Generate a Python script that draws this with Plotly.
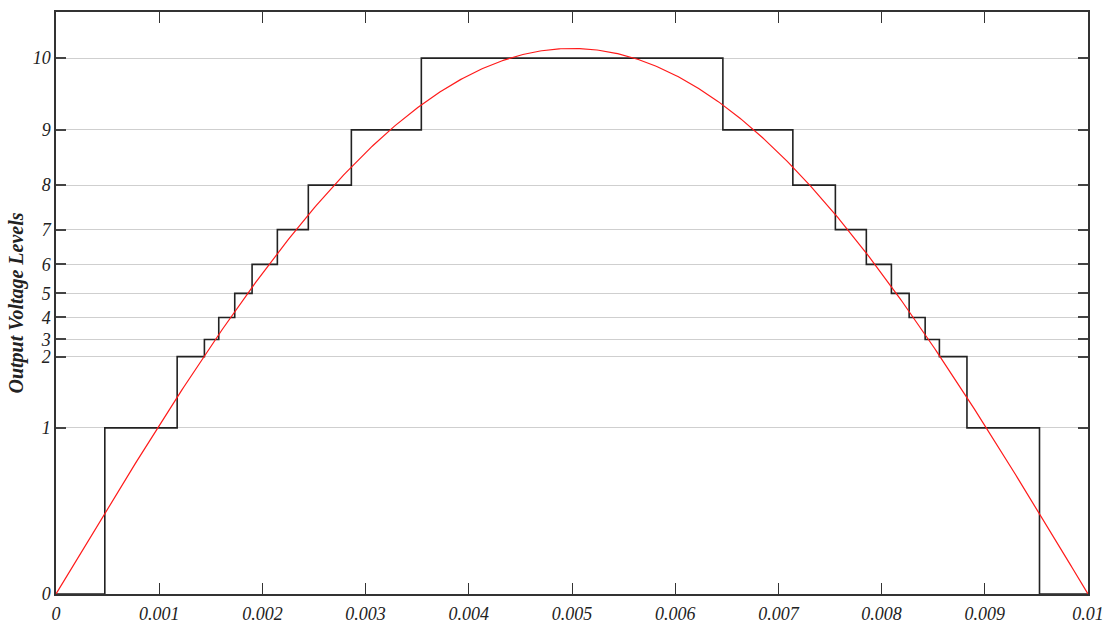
import numpy as np
import plotly.graph_objects as go

# Level positions on the (normalised) voltage scale
level_labels = ["0", "1", "2", "3", "4", "5", "6", "7", "8", "9", "10"]
level_pos = [0.0, 0.310, 0.443, 0.475, 0.516, 0.561, 0.615, 0.680, 0.763, 0.866, 1.0]

# Switching instants (s) for rising and falling edges
rise_times = [0.000473, 0.001174, 0.001438, 0.001577, 0.001732, 0.001900,
              0.002145, 0.002445, 0.002862, 0.003540]
fall_times = [0.006462, 0.007140, 0.007552, 0.007852, 0.008095, 0.008267,
              0.008422, 0.008560, 0.008827, 0.009530]

# Reference sinusoid
ref_amp = 1.018
half_period = 0.01

x_ticks = [0, 0.001, 0.002, 0.003, 0.004, 0.005, 0.006, 0.007, 0.008, 0.009, 0.01]
x_ticktext = ["0", "0.001", "0.002", "0.003", "0.004", "0.005", "0.006", "0.007",
              "0.008", "0.009", "0.01"]

# Build staircase
sx = [0.0] + rise_times + fall_times + [0.01]
sy = [level_pos[0]] + level_pos[1:] + level_pos[9::-1] + [level_pos[0]]

t = np.linspace(0, half_period, 600)
ref = ref_amp * np.sin(np.pi * t / half_period)

fig = go.Figure()
fig.add_trace(go.Scatter(x=sx, y=sy, mode="lines", line=dict(color="#222222", width=1.6, shape="hv"),
                         showlegend=False))
fig.add_trace(go.Scatter(x=t, y=ref, mode="lines", line=dict(color="#ff1a1a", width=1.2),
                         showlegend=False))

font_fam = "Liberation Serif"
fig.update_layout(
    width=1110, height=625,
    margin=dict(l=56, r=22, t=12, b=31),
    paper_bgcolor="white", plot_bgcolor="white",
    xaxis=dict(range=[0, 0.01], tickvals=x_ticks, ticktext=x_ticktext,
               showgrid=False, zeroline=False, automargin=False,
               showline=True, mirror="ticks", linecolor="#333333", linewidth=1.5,
               ticks="inside", ticklen=11, tickcolor="#333333", tickwidth=1,
               ticklabelstandoff=3,
               tickfont=dict(family=font_fam, size=18, color="#222222", style="italic")),
    yaxis=dict(range=[0, 1.086], tickvals=level_pos, ticktext=level_labels,
               showgrid=True, gridcolor="#cfcfcf", gridwidth=1.2, zeroline=False,
               automargin=False,
               showline=True, mirror="ticks", linecolor="#333333", linewidth=1.5,
               ticks="inside", ticklen=10, tickcolor="#444444", tickwidth=1.5,
               tickfont=dict(family=font_fam, size=18, color="#222222", style="italic"),
               title=dict(text="Output Voltage Levels", standoff=4,
                          font=dict(family=font_fam, size=20, color="#222222",
                                    style="italic", weight="bold"))),
)

fig.write_html("out.html")
